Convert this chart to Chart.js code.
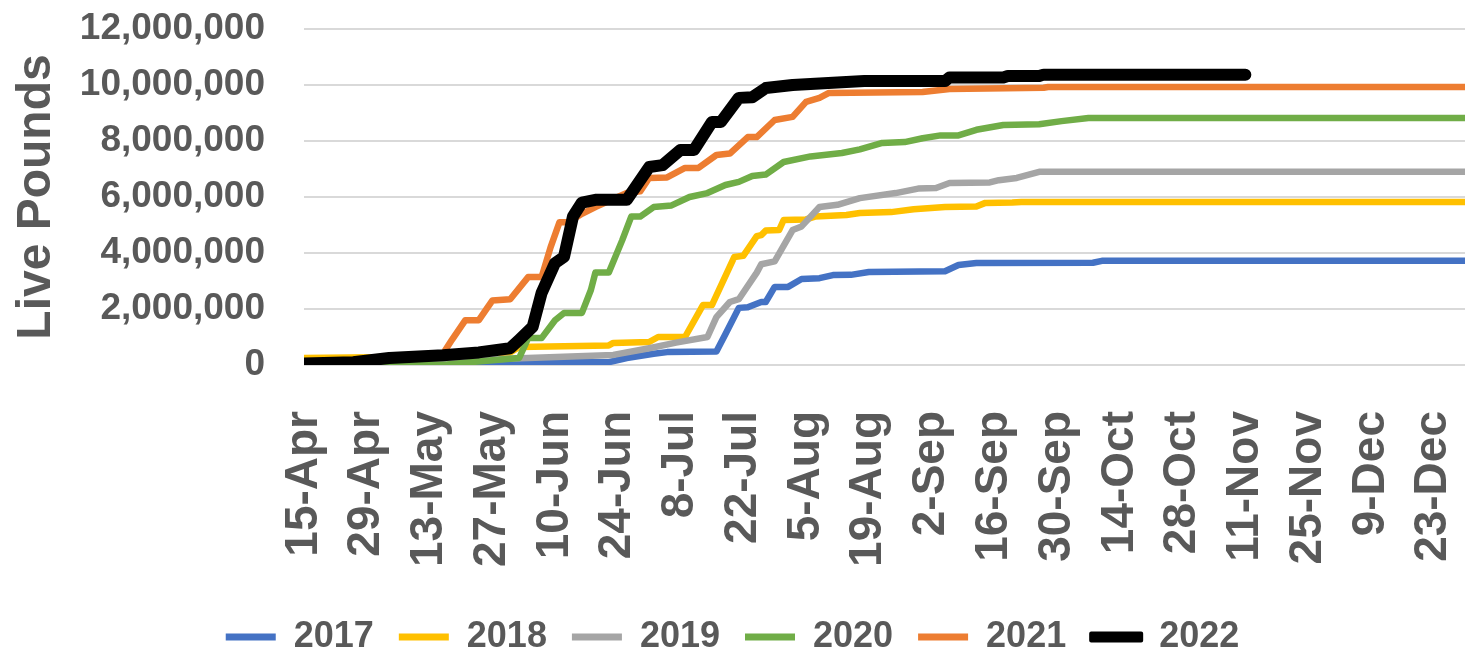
<!DOCTYPE html>
<html>
<head>
<meta charset="utf-8">
<script src="https://cdn.jsdelivr.net/npm/chart.js@4.4.1/dist/chart.umd.min.js"></script>
<style>
  html, body { margin: 0; padding: 0; background: #fff; }
  #liveChart { display: block; }
</style>
</head>
<body>
<canvas id="liveChart" width="1465" height="659"></canvas>
<script>
// x values are days after 15-Apr (daily axis runs 15-Apr .. 30-Dec)
const tickLabels = ['15-Apr', '29-Apr', '13-May', '27-May', '10-Jun', '24-Jun', '8-Jul', '22-Jul', '5-Aug',
    '19-Aug', '2-Sep', '16-Sep', '30-Sep', '14-Oct', '28-Oct', '11-Nov', '25-Nov', '9-Dec', '23-Dec'];

const years = ['2017', '2018', '2019', '2020', '2021', '2022'];
const colors = ['#4472C4', '#FFC000', '#A5A5A5', '#70AD47', '#ED7D31', '#000000'];

const days2017 = [0, 32, 53, 68, 72, 78, 81, 92, 94, 97, 99, 102, 103, 105, 108, 111, 115, 118, 122, 126, 143, 146, 150, 176, 178, 259];
const vals2017 = [20000, 50000, 100000, 100000, 250000, 400000, 460000, 480000, 1100000, 2040000, 2060000, 2250000, 2250000,
    2790000, 2790000, 3070000, 3100000, 3210000, 3220000, 3320000, 3350000, 3570000, 3640000, 3650000, 3720000, 3720000];

const days2018 = [0, 31, 45, 48, 68, 69, 77, 79, 85, 89, 91, 96, 98, 101, 102, 103, 106, 107, 112, 114, 121, 124, 131, 136,
    143, 150, 152, 158, 160, 259];
const vals2018 = [250000, 300000, 350000, 640000, 700000, 790000, 820000, 1000000, 1000000, 2140000, 2140000, 3860000, 3900000,
    4600000, 4640000, 4800000, 4820000, 5180000, 5200000, 5300000, 5360000, 5430000, 5460000, 5560000, 5640000, 5660000,
    5790000, 5800000, 5820000, 5820000];

const days2019 = [0, 32, 50, 69, 77, 83, 90, 92, 95, 97, 101, 102, 105, 109, 111, 115, 119, 124, 132, 137, 141, 144, 153, 155,
    159, 164, 259];
const vals2019 = [100000, 150000, 250000, 360000, 600000, 800000, 1000000, 1710000, 2250000, 2350000, 3300000, 3600000, 3700000,
    4820000, 4950000, 5640000, 5720000, 5960000, 6140000, 6300000, 6320000, 6500000, 6520000, 6600000, 6680000, 6900000, 6900000];

const days2020 = [0, 32, 37, 48, 50, 53, 56, 58, 62, 64, 65, 68, 71, 73, 75, 78, 82, 86, 90, 94, 97, 100, 103, 107, 113, 120,
    124, 129, 134, 138, 142, 146, 150, 156, 164, 169, 175, 259];
const vals2020 = [0, 20000, 100000, 250000, 960000, 960000, 1600000, 1860000, 1860000, 2680000, 3300000, 3300000, 4460000,
    5300000, 5300000, 5640000, 5700000, 6000000, 6140000, 6430000, 6540000, 6750000, 6800000, 7250000, 7450000, 7570000,
    7700000, 7930000, 7960000, 8100000, 8200000, 8200000, 8400000, 8570000, 8600000, 8710000, 8820000, 8820000];

const days2021 = [0, 11, 19, 31, 33, 36, 39, 42, 46, 50, 53, 55, 57, 59, 62, 65, 72, 75, 77, 81, 85, 88, 92, 95, 99, 101, 105,
    109, 112, 115, 117, 138, 144, 165, 166, 259];
const vals2021 = [50000, 100000, 250000, 400000, 900000, 1600000, 1600000, 2300000, 2350000, 3140000, 3140000, 4200000, 5100000,
    5100000, 5400000, 5640000, 6140000, 6200000, 6680000, 6700000, 7040000, 7040000, 7500000, 7550000, 8140000, 8140000,
    8750000, 8860000, 9400000, 9540000, 9710000, 9750000, 9860000, 9900000, 9930000, 9930000];

const days2022 = [0, 11, 19, 31, 39, 46, 48, 51, 53, 56, 58, 60, 62, 65, 72, 77, 80, 84, 87, 91, 93, 97, 100, 103, 109, 117,
    125, 143, 144, 156, 157, 164, 165, 210];
const vals2022 = [50000, 100000, 250000, 350000, 450000, 600000, 900000, 1360000, 2570000, 3640000, 3860000, 5300000, 5800000,
    5900000, 5900000, 7070000, 7140000, 7680000, 7680000, 8680000, 8680000, 9540000, 9560000, 9890000, 10000000, 10070000,
    10140000, 10140000, 10270000, 10270000, 10320000, 10320000, 10370000, 10370000];

const allDays = [days2017, days2018, days2019, days2020, days2021, days2022];
const allVals = [vals2017, vals2018, vals2019, vals2020, vals2021, vals2022];

const FONT = "'Liberation Sans', Arial, sans-serif";
const TEXT = '#595959';

const datasets = years.map((year, i) => ({
    label: year,
    data: allDays[i].map((d, k) => ({ x: d, y: allVals[i][k] })),
    borderColor: colors[i],
    backgroundColor: colors[i],
    borderWidth: year === '2022' ? 12 : 6.5,
    borderCapStyle: 'round',
    borderJoinStyle: 'round',
    pointRadius: 0,
    tension: 0,
    order: years.length - i, // later years on top
}));

const ctx = document.getElementById('liveChart').getContext('2d');
new Chart(ctx, {
    type: 'line',
    data: { datasets: datasets },
    options: {
        responsive: false,
        animation: false,
        devicePixelRatio: 1,
        layout: { padding: { top: 29, right: 0, left: 0, bottom: -6 } },
        plugins: {
            tooltip: { enabled: false },
            legend: {
                position: 'bottom',
                reverse: true,
                labels: {
                    boxWidth: 50,
                    boxHeight: 7,
                    padding: 25,
                    color: TEXT,
                    font: { family: FONT, size: 36, weight: 'bold' },
                    generateLabels: (chart) => {
                        const items = Chart.defaults.plugins.legend.labels.generateLabels(chart);
                        items.forEach((it) => {
                            it.fillStyle = it.strokeStyle;
                            it.lineWidth = it.text === '2022' ? 4 : 0;
                        });
                        return items;
                    },
                },
            },
        },
        scales: {
            x: {
                type: 'linear',
                min: 0,
                max: 259,
                grid: { display: false },
                border: { display: false },
                ticks: {
                    stepSize: 14,
                    includeBounds: false,
                    autoSkip: false,
                    minRotation: 90,
                    maxRotation: 90,
                    padding: 38,
                    color: TEXT,
                    font: { family: FONT, size: 46, weight: 'bold' },
                    callback: (v) => (v % 14 === 0 ? tickLabels[v / 14] : null),
                },
                afterFit: (scale) => {
                    scale.height = 229;
                    scale.paddingLeft = 0;
                    scale.paddingRight = 0;
                },
            },
            y: {
                min: 0,
                max: 12000000,
                grid: { color: '#d9d9d9', lineWidth: 2, drawTicks: false },
                border: { display: false },
                ticks: {
                    stepSize: 2000000,
                    autoSkip: false,
                    padding: 39,
                    color: TEXT,
                    font: { family: FONT, size: 37, weight: 'bold' },
                    callback: (v) => v.toLocaleString('en-US'),
                },
                title: {
                    display: true,
                    text: 'Live Pounds',
                    color: TEXT,
                    font: { family: FONT, size: 48, weight: 'bold' },
                    padding: { top: 8, bottom: 0 },
                },
                afterFit: (scale) => {
                    scale.width = 304;
                    scale.paddingTop = 0;
                    scale.paddingBottom = 0;
                },
            },
        },
    },
});
</script>
</body>
</html>
